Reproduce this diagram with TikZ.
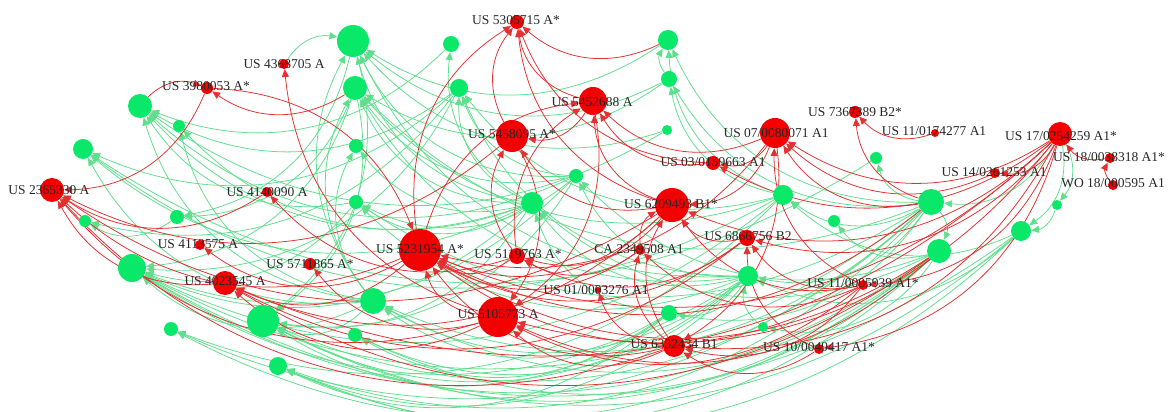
\documentclass[tikz,border=0pt]{standalone}
\usepackage{fontspec}
\setmainfont{Liberation Serif}
\usetikzlibrary{arrows.meta,backgrounds}
\definecolor{nodegreen}{RGB}{10,232,105}
\definecolor{edgegreen}{RGB}{95,222,140}
\definecolor{nodered}{RGB}{245,0,0}
\definecolor{edgered}{RGB}{228,48,48}
\tikzset{
  gn/.style={circle,fill=nodegreen,inner sep=0pt,minimum size=#1*0.25mm},
  rn/.style={circle,fill=nodered,inner sep=0pt,minimum size=#1*0.25mm},
  lab/.style={font=\fontsize{9.6}{10}\selectfont,inner sep=0pt,text=black!85},
  gin/.style={every edge/.style={draw=edgegreen,line width=0.55pt,{Triangle[length=5.5pt,width=5pt]}-,bend right=33}},
  rin/.style={every edge/.style={draw=edgered,line width=0.55pt,{Triangle[length=5.5pt,width=5pt]}-,bend right=33}},
}

\begin{document}
\begin{tikzpicture}[x=0.025cm,y=-0.025cm]
\useasboundingbox (0,0) rectangle (1176,412);
% green nodes
\node[gn=32] (g1) at (353,41) {};
\node[gn=24] (g2) at (355,88) {};
\node[gn=24] (g3) at (140,106) {};
\node[gn=12] (g4) at (179,126) {};
\node[gn=20] (g5) at (83,149) {};
\node[gn=14] (g6) at (356,146) {};
\node[gn=14] (g7) at (356,202) {};
\node[gn=16] (g8) at (451,44) {};
\node[gn=18] (g9) at (459,88) {};
\node[gn=20] (g10) at (668,40) {};
\node[gn=16] (g11) at (669,79) {};
\node[gn=10] (g12) at (667,130) {};
\node[gn=14] (g13) at (576,176) {};
\node[gn=22] (g14) at (532,203) {};
\node[gn=20] (g15) at (783,195) {};
\node[gn=12] (g16) at (876,158) {};
\node[gn=26] (g17) at (931,202) {};
\node[gn=12] (g18) at (834,221) {};
\node[gn=24] (g19) at (939,251) {};
\node[gn=20] (g20) at (1021,231) {};
\node[gn=10] (g21) at (1057,205) {};
\node[gn=12] (g22) at (85,221) {};
\node[gn=14] (g23) at (177,217) {};
\node[gn=28] (g24) at (132,268) {};
\node[gn=14] (g25) at (171,329) {};
\node[gn=32] (g26) at (263,321) {};
\node[gn=18] (g27) at (278,366) {};
\node[gn=26] (g28) at (373,301) {};
\node[gn=14] (g29) at (355,335) {};
\node[gn=20] (g30) at (748,276) {};
\node[gn=16] (g31) at (669,313) {};
\node[gn=10] (g32) at (763,327) {};
% red nodes
\node[rn=14] (us5305715) at (517,22) {};
\node[rn=10] (us4368705) at (284,64) {};
\node[rn=12] (us3980053) at (207,88) {};
\node[rn=28] (us5452688) at (593,101) {};
\node[rn=32] (us5458095) at (512,136) {};
\node[rn=30] (us070080071) at (775,133) {};
\node[rn=12] (us7367389) at (855,112) {};
\node[rn=8] (us110174277) at (935,133) {};
\node[rn=24] (us170254259) at (1060,134) {};
\node[rn=10] (us180038318) at (1110,158) {};
\node[rn=10] (wo18000595) at (1113,185) {};
\node[rn=10] (us140261253) at (995,173) {};
\node[rn=14] (us030159663) at (713,163) {};
\node[rn=24] (us2365330) at (52,190) {};
\node[rn=10] (us4140090) at (267,192) {};
\node[rn=34] (us6209493) at (672,205) {};
\node[rn=10] (us4113575) at (200,245) {};
\node[rn=42] (us5231954) at (420,250) {};
\node[rn=16] (us5119763) at (517,256) {};
\node[rn=10] (ca2349508) at (640,250) {};
\node[rn=16] (us6866756) at (747,238) {};
\node[rn=12] (us5711865) at (310,264) {};
\node[rn=24] (us4023545) at (225,283) {};
\node[rn=6] (us010003276) at (598,290) {};
\node[rn=40] (us5105773) at (498,317) {};
\node[rn=10] (us110005939) at (863,285) {};
\node[rn=22] (us6332434) at (674,346) {};
\node[rn=10] (us100049417) at (819,349) {};

\begin{pgfonlayer}{background}
% citations into green nodes
\path[gin] (g24) edge (g19) edge (g20) edge (g17) edge (g30) edge (g15) edge (g13) edge (g14) edge (g28) edge (g7) edge (g2) edge (g9);
\path[gin] (g26) edge (g19) edge (g20) edge (g17) edge (g30) edge (g31) edge (g14) edge (g13) edge (g28) edge (g2) edge (g1);
\path[gin] (g27) edge (g20) edge (g19) edge (g17) edge (g30) edge (g31);
\path[gin] (g25) edge (g17) edge (g19) edge (g15);
\path[gin] (g3) edge (g13) edge (g14) edge (g28) edge (g7) edge (g9) edge (g12) edge (g8);
\path[gin] (g5) edge (g14) edge (g16) edge (g9) edge (g28) edge (g15);
\path[gin] (g22) edge (g23) edge (g9);
\path[gin] (g23) edge (g1) edge (g2);
\path[gin] (g4) edge (g14) edge (g28);
\path[gin] (g1) edge (g13) edge (g14) edge (g10) edge (g11) edge (g12) edge (g28) edge (g30) edge (us4368705);
\path[gin] (g2) edge (g14) edge (g13) edge (g11) edge (g28) edge (g17) edge (g30) edge (g15);
\path[gin] (g6) edge (g28) edge (g14);
\path[gin] (g7) edge (g14) edge (g13) edge (g30) edge (g17);
\path[gin] (g8) edge (g14);
\path[gin] (g9) edge (g14) edge (g13) edge (g30) edge (g15);
\path[gin] (g10) edge (g11) edge (g17) edge (g15);
\path[gin] (g11) edge (g15) edge (g17);
\path[gin] (g13) edge (g30) edge (g19);
\path[gin] (g14) edge (g30) edge (g31) edge (g19);
\path[gin] (g15) edge (g17) edge (g20);
\path[gin] (g16) edge (g17);
\path[gin] (g17) edge (us170254259);
\path[gin] (g18) edge (g19);
\path[gin] (g19) edge (g17);
\path[gin] (g20) edge (us170254259) edge (g21);
\path[gin] (g21) edge (us170254259);
\path[gin] (g28) edge (g30) edge (g19) edge (g31) edge (g17);
\path[gin] (g29) edge (g30) edge (g31) edge (g19);
\path[gin] (g30) edge (g32) edge (g20) edge (g17);
\path[gin] (g31) edge (g30) edge (g17);
\path[gin] (g32) edge (g19);
% citations into red nodes
\path[rin] (us5305715) edge (us5452688) edge (g10) edge (us5458095) edge (us5231954) edge (us6209493) edge (us030159663);
\path[rin] (us4368705) edge (us5105773);
\path[rin] (us3980053) edge (g3) edge (g2);
\path[rin] (us5452688) edge (us6209493) edge (us070080071) edge (us030159663) edge (us5231954) edge (us5119763);
\path[rin] (us5458095) edge (us5452688) edge (us5119763) edge (us6209493);
\path[rin] (us070080071) edge (us170254259) edge (us140261253) edge (us110005939) edge (g17);
\path[rin] (us7367389) edge (us110174277) edge (g17);
\path[rin] (us170254259) edge (us180038318);
\path[rin] (us180038318) edge (wo18000595);
\path[rin] (us140261253) edge (us170254259);
\path[rin] (us030159663) edge (us070080071) edge (us170254259);
\path[rin] (us2365330) edge (us3980053) edge (us5231954) edge (us5105773) edge (us4023545) edge (us6209493) edge (us4140090) edge (us5458095) edge (us6332434);
\path[rin] (us4140090) edge (us5119763);
\path[rin] (us6209493) edge (us6866756) edge (us110005939) edge (us170254259) edge (us070080071) edge (ca2349508) edge (us6332434);
\path[rin] (us4113575) edge (us5231954);
\path[rin] (us5231954) edge (us3980053) edge (us6209493) edge (us6866756) edge (us5105773) edge (us5119763) edge (ca2349508) edge (us170254259) edge (us110005939) edge (us070080071) edge (us6332434) edge (g19) edge (g17);
\path[rin] (us5119763) edge (us6209493) edge (ca2349508) edge (us6866756);
\path[rin] (ca2349508) edge (us6332434) edge (us110005939);
\path[rin] (us6866756) edge (us170254259) edge (us110005939) edge (us100049417);
\path[rin] (us5711865) edge (us5105773);
\path[rin] (us4023545) edge (us5231954) edge (us5105773) edge (us6209493) edge (us170254259) edge (us6866756) edge (g19);
\path[rin] (us010003276) edge (us6332434);
\path[rin] (us5105773) edge (us5458095) edge (us5452688) edge (us6332434) edge (us110005939) edge (us170254259) edge (g19);
\path[rin] (us110005939) edge (us170254259);
\path[rin] (us6332434) edge (us170254259) edge (us100049417) edge (us110005939) edge (us070080071);
\path[rin] (us100049417) edge (us170254259);
\end{pgfonlayer}

% labels
\node[lab] (l5305715) at (516,20) {US 5305715 A*};
\node[lab] (l4368705) at (284,64) {US 4368705 A};
\node[lab] (l3980053) at (206,86) {US 3980053 A*};
\node[lab] (l5452688) at (592,102) {US 5452688 A};
\node[lab] (l5458095) at (512,134) {US 5458095 A*};
\node[lab] (l070080071) at (776,133) {US 07/0080071 A1};
\node[lab] (l7367389) at (855,112) {US 7367389 B2*};
\node[lab] (l110174277) at (934,131) {US 11/0174277 A1};
\node[lab] (l170254259) at (1061,136) {US 17/0254259 A1*};
\node[lab] (l180038318) at (1109,157) {US 18/0038318 A1*};
\node[lab] (l18000595) at (1113,183) {WO 18/000595 A1};
\node[lab] (l140261253) at (994,172) {US 14/0261253 A1};
\node[lab] (l030159663) at (713,162) {US 03/0159663 A1};
\node[lab] (l2365330) at (49,190) {US 2365330 A};
\node[lab] (l4140090) at (267,192) {US 4140090 A};
\node[lab] (l6209493) at (671,204) {US 6209493 B1*};
\node[lab] (l4113575) at (198,244) {US 4113575 A};
\node[lab] (l5231954) at (420,249) {US 5231954 A*};
\node[lab] (l5119763) at (518,254) {US 5119763 A*};
\node[lab] (l2349508) at (639,249) {CA 2349508 A1};
\node[lab] (l6866756) at (748,236) {US 6866756 B2};
\node[lab] (l5711865) at (310,264) {US 5711865 A*};
\node[lab] (l4023545) at (225,281) {US 4023545 A};
\node[lab] (l010003276) at (596,290) {US 01/0003276 A1};
\node[lab] (l5105773) at (498,314) {US 5105773 A};
\node[lab] (l110005939) at (863,283) {US 11/0005939 A1*};
\node[lab] (l6332434) at (674,344) {US 6332434 B1};
\node[lab] (l100049417) at (819,347) {US 10/0049417 A1*};
\end{tikzpicture}
\end{document}
